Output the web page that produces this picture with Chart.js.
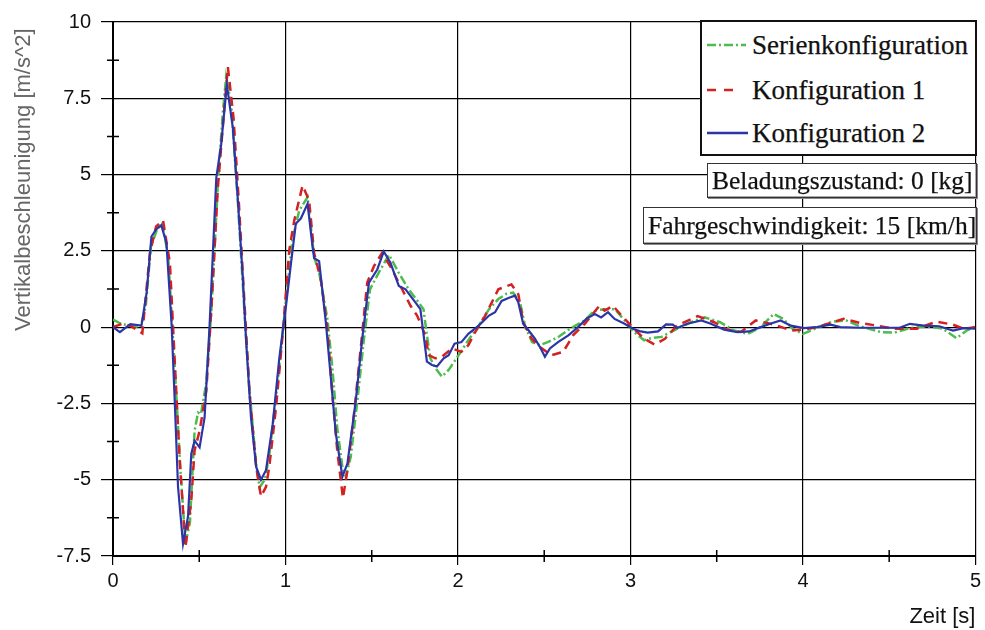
<!DOCTYPE html>
<html>
<head>
<meta charset="utf-8">
<script src="https://cdn.jsdelivr.net/npm/chart.js@4.4.1/dist/chart.umd.min.js"></script>
<style>
  body { margin: 0; background: #fff; }
  #wrap { position: relative; width: 985px; height: 630px; }
  .box {
    position: absolute; background: #fff; box-sizing: border-box;
    font-family: "Liberation Serif", "Times New Roman", serif; color: #111;
    -webkit-text-stroke: 0.25px #111;
  }
  #legend { left: 700px; top: 20px; width: 277px; height: 136px; border: 2px solid #111; }
  .row { position: absolute; left: 0; height: 40px; line-height: 40px; font-size: 27px; }
  .row svg { position: absolute; left: 4px; top: 14px; }
  .row span { position: absolute; left: 50px; white-space: nowrap; }
  .note {
    border: 1px solid #333; box-shadow: 1px 1px 0 #888, inset -1px -1px 0 #aaa;
    font-size: 25.5px; white-space: nowrap; padding-left: 4px;
  }
  #ytitle {
    position: absolute; left: 10px; top: 331px; height: 26px; line-height: 26px;
    transform-origin: 0 0; transform: rotate(-90deg); white-space: nowrap;
    font-family: "Liberation Sans", Arial, sans-serif; font-size: 22px; color: #666;
  }
</style>
</head>
<body>
<div id="wrap">
  <canvas id="chart" width="985" height="630"></canvas>
  <div id="ytitle">Vertikalbeschleunigung [m/s^2]</div>
  <div id="legend" class="box">
    <div class="row" style="top:3px"><svg width="44" height="12"><line x1="1" y1="6" x2="40" y2="6" stroke="#4dbb4d" stroke-width="2.5" stroke-dasharray="9,3,2,3"/></svg><span>Serienkonfiguration</span></div>
    <div class="row" style="top:48px"><svg width="44" height="12"><line x1="1" y1="6" x2="33" y2="6" stroke="#d42020" stroke-width="2.5" stroke-dasharray="9,8"/></svg><span>Konfiguration 1</span></div>
    <div class="row" style="top:91px"><svg width="44" height="12"><line x1="1" y1="6" x2="42" y2="6" stroke="#2b35a8" stroke-width="2.5"/></svg><span>Konfiguration 2</span></div>
  </div>
  <div class="box note" style="left:707px; top:163px; width:270px; height:35px; line-height:33px;">Beladungszustand: 0 [kg]</div>
  <div class="box note" style="left:643px; top:207px; width:334px; height:37px; line-height:35px;">Fahrgeschwindigkeit: 15 [km/h]</div>
</div>
<script>
// Zeit [s] and Vertikalbeschleunigung [m/s^2]
const serieT = [0, 0.05, 0.1, 0.16, 0.19, 0.22, 0.255, 0.287, 0.32, 0.36, 0.39, 0.42, 0.446, 0.473, 0.493, 0.51, 0.54, 0.57, 0.608, 0.637,
  0.656, 0.685, 0.724, 0.762, 0.79, 0.83, 0.85, 0.88, 0.906, 0.955, 0.994, 1.04, 1.08, 1.128, 1.166, 1.195, 1.243, 1.272, 1.30, 1.33,
  1.35, 1.378, 1.417, 1.455, 1.49, 1.54, 1.6, 1.657, 1.714, 1.772, 1.8, 1.82, 1.84, 1.87, 1.907, 1.946, 1.994, 2.06, 2.12, 2.18,
  2.234, 2.283, 2.32, 2.36, 2.39, 2.43, 2.475, 2.52, 2.58, 2.65, 2.735, 2.79, 2.85, 2.91, 2.966, 3.02, 3.08, 3.12, 3.18, 3.25,
  3.35, 3.43, 3.52, 3.6, 3.68, 3.755, 3.83, 3.886, 3.94, 4.0, 4.08, 4.17, 4.25, 4.33, 4.45, 4.53, 4.62, 4.72, 4.81, 4.89, 4.95, 5.0];
const serieV = [0.25, 0.1, 0.05, 0, 0.7, 2.65, 3.2, 3.4, 2.3, -1.5, -4.6, -7.1, -6.4, -3.4, -2.8, -2.85, -1.85, 0.5, 4.7, 7.05,
  8.2, 7.3, 4.1, 0.5, -2.0, -4.5, -5.25, -5.0, -4.2, -1.8, 0.4, 2.86, 3.83, 4.26, 2.3, 1.8, 0.27, -1.35, -3.3, -4.58,
  -4.9, -4.26, -2.4, -0.38, 1.24, 1.78, 2.37, 1.78, 1.24, 0.81, 0.59, -0.27, -1.02, -1.35, -1.62, -1.4, -1.0, -0.43, 0.05, 0.59,
  0.92, 1.1, 1.13, 0.81, 0.0, -0.49, -0.59, -0.49, -0.33, -0.05, 0.22, 0.54, 0.59, 0.59, 0.22, -0.16, -0.43, -0.36, -0.32, -0.11,
  0.16, 0.32, 0.16, -0.11, -0.22, 0, 0.43, 0.27, -0.05, -0.22, -0.03, 0.18, 0.22, 0.03, -0.16, -0.18, -0.03, 0.03, -0.05, -0.36, -0.11, 0.03];

const konf1T = [0, 0.05, 0.1, 0.17, 0.214, 0.25, 0.29, 0.33, 0.358, 0.387, 0.42, 0.454, 0.473, 0.502, 0.541, 0.57, 0.608, 0.647, 0.666, 0.699,
  0.73, 0.762, 0.791, 0.83, 0.858, 0.887, 0.906, 0.945, 0.983, 1.022, 1.051, 1.099, 1.137, 1.166, 1.205, 1.243, 1.272, 1.30, 1.333, 1.359,
  1.397, 1.436, 1.474, 1.513, 1.56, 1.618, 1.676, 1.725, 1.763, 1.811, 1.83, 1.869, 1.907, 1.965, 2.02, 2.06, 2.1, 2.158, 2.234, 2.31,
  2.35, 2.378, 2.427, 2.475, 2.542, 2.61, 2.667, 2.735, 2.82, 2.85, 2.898, 2.966, 3.02, 3.08, 3.14, 3.2, 3.27, 3.39, 3.486, 3.56,
  3.64, 3.726, 3.79, 3.85, 3.93, 4.005, 4.08, 4.236, 4.33, 4.43, 4.525, 4.66, 4.775, 4.87, 4.93, 5.0];
const konf1V = [0, 0.1, 0.05, -0.2, 2.43, 3.3, 3.5, 2.1, -1.13, -4.37, -7.22, -5.66, -4.04, -3.4, -2.1, 0.59, 4.58, 7.28, 8.52, 6.85,
  4.04, 0.81, -2.1, -4.58, -5.55, -5.23, -4.58, -2.64, -0.27, 2.53, 3.5, 4.64, 4.15, 2.43, 1.56, -0.05, -2.21, -4.04, -5.6, -4.69,
  -2.86, -0.7, 1.46, 2.0, 2.43, 1.89, 1.24, 0.7, 0.38, -0.27, -0.92, -1.02, -0.97, -0.7, -0.81, -0.59, -0.16, 0.38, 1.24, 1.4,
  1.08, 0.16, -0.38, -0.65, -0.92, -0.81, -0.27, 0.11, 0.7, 0.54, 0.7, 0.27, -0.05, -0.38, -0.57, -0.38, 0.05, 0.36, 0.16, -0.08,
  -0.16, 0.22, 0.14, 0.05, -0.11, -0.08, 0, 0.27, 0.14, 0.05, -0.05, -0.05, 0.18, 0.08, -0.05, 0];

const konf2T = [0, 0.04, 0.1, 0.165, 0.195, 0.223, 0.25, 0.28, 0.31, 0.34, 0.358, 0.377, 0.406, 0.435, 0.454, 0.473, 0.502, 0.531, 0.56, 0.599,
  0.627, 0.66, 0.695, 0.724, 0.752, 0.772, 0.8, 0.83, 0.858, 0.887, 0.926, 0.964, 1.003, 1.032, 1.06, 1.089, 1.128, 1.157, 1.166, 1.195,
  1.234, 1.263, 1.292, 1.33, 1.359, 1.407, 1.445, 1.484, 1.532, 1.57, 1.609, 1.657, 1.696, 1.753, 1.782, 1.801, 1.82, 1.849, 1.878, 1.917,
  1.946, 1.98, 2.02, 2.06, 2.12, 2.18, 2.215, 2.253, 2.3, 2.33, 2.35, 2.378, 2.41, 2.446, 2.48, 2.504, 2.533, 2.58, 2.64, 2.696,
  2.744, 2.793, 2.83, 2.87, 2.908, 2.966, 3.014, 3.06, 3.1, 3.16, 3.206, 3.245, 3.27, 3.33, 3.41, 3.466, 3.543, 3.62, 3.688, 3.755,
  3.81, 3.87, 3.93, 4.005, 4.08, 4.16, 4.217, 4.33, 4.45, 4.56, 4.62, 4.7, 4.79, 4.87, 4.93, 5.0];
const konf2V = [0, -0.16, 0.1, 0.05, 1.13, 2.97, 3.2, 3.34, 2.75, 0.06, -2.43, -5.23, -7.1, -6.2, -4.15, -3.72, -3.94, -2.96, 0.06, 4.9,
  5.98, 7.95, 6.52, 4.15, 1.67, -0.48, -2.96, -4.58, -5.0, -4.69, -3.18, -1.02, 0.7, 2.1, 3.4, 3.56, 4.04, 2.64, 2.26, 2.16,
  0.16, -1.67, -3.5, -4.9, -4.47, -2.43, -0.38, 1.46, 1.89, 2.48, 2.1, 1.35, 1.24, 0.81, 0.59, -0.27, -1.13, -1.24, -1.29, -1.02,
  -0.92, -0.54, -0.49, -0.22, 0.05, 0.38, 0.49, 0.86, 0.97, 1.03, 0.81, 0.11, -0.11, -0.38, -0.7, -0.97, -0.7, -0.49, -0.27, 0.0,
  0.27, 0.43, 0.32, 0.49, 0.27, 0.11, -0.05, -0.14, -0.18, -0.14, 0.09, 0.08, -0.03, 0.11, 0.22, 0.11, -0.08, -0.16, -0.14, 0,
  0.11, 0.22, 0.05, -0.03, 0, 0.08, 0, -0.02, -0.02, -0.02, 0.11, 0.05, 0.03, -0.11, -0.03, -0.05];

const xMin = 0, xMax = 5, xStep = 0.5;
const yMin = -7.5, yMax = 10, yStep = 1.25;

function toPoints(ts, vs) {
  return ts.map((t, i) => ({ x: t, y: vs[i] }));
}

const isMajorX = (v) => Math.abs(v - Math.round(v)) < 1e-6;
const isMajorY = (v) => Math.abs(v / 2.5 - Math.round(v / 2.5)) < 1e-6;

// minor ticks cross the axis line (6px each side)
const minorTicks = {
  id: 'minorTicks',
  afterDraw(chart) {
    const { ctx, chartArea, scales } = chart;
    ctx.save();
    ctx.strokeStyle = '#000';
    ctx.lineWidth = 1.5;
    ctx.beginPath();
    scales.x.ticks.forEach((t) => {
      if (isMajorX(t.value)) return;
      const px = scales.x.getPixelForValue(t.value);
      ctx.moveTo(px, chartArea.bottom + 6);
      ctx.lineTo(px, chartArea.bottom - 6);
    });
    scales.y.ticks.forEach((t) => {
      if (isMajorY(t.value)) return;
      const py = scales.y.getPixelForValue(t.value);
      ctx.moveTo(chartArea.left - 6, py);
      ctx.lineTo(chartArea.left + 6, py);
    });
    ctx.stroke();
    ctx.restore();
  },
};

const tickFont = { family: '"Liberation Sans", Arial, sans-serif', size: 20 };

new Chart(document.getElementById('chart'), {
  type: 'line',
  data: {
    datasets: [
      {
        label: 'Konfiguration 2',
        data: toPoints(konf2T, konf2V),
        borderColor: '#2b35a8',
        borderWidth: 2.2,
        order: 1,
      },
      {
        label: 'Konfiguration 1',
        data: toPoints(konf1T, konf1V),
        borderColor: '#d42020',
        borderWidth: 2.5,
        borderDash: [9, 6],
        order: 2,
      },
      {
        label: 'Serienkonfiguration',
        data: toPoints(serieT, serieV),
        borderColor: '#4dbb4d',
        borderWidth: 2.5,
        borderDash: [9, 3, 2, 3],
        order: 3,
      },
    ],
  },
  options: {
    responsive: false,
    animation: false,
    devicePixelRatio: 1,
    layout: { padding: { top: 15, right: 7, left: 0, bottom: 0 } },
    elements: { point: { radius: 0 }, line: { tension: 0, fill: false } },
    plugins: { legend: { display: false }, tooltip: { enabled: false } },
    scales: {
      x: {
        type: 'linear',
        min: xMin,
        max: xMax,
        afterFit: (s) => { s.height = 74; },
        ticks: {
          stepSize: xStep,
          autoSkip: false,
          maxRotation: 0,
          padding: 4,
          color: '#111',
          font: tickFont,
          callback: (v) => (isMajorX(v) ? String(v) : ''),
        },
        grid: {
          color: (c) => (c.tick && isMajorX(c.tick.value) ? '#000' : 'rgba(0,0,0,0)'),
          tickColor: (c) => (c.tick && isMajorX(c.tick.value) ? '#000' : 'rgba(0,0,0,0)'),
          tickLength: 9,
          lineWidth: 1.2,
        },
        border: { color: '#000', width: 2 },
        title: {
          display: true,
          text: 'Zeit [s]',
          align: 'end',
          color: '#111',
          font: { family: '"Liberation Sans", Arial, sans-serif', size: 22 },
          padding: { top: 0, bottom: 0 },
        },
      },
      y: {
        type: 'linear',
        min: yMin,
        max: yMax,
        afterFit: (s) => { s.width = 113; },
        ticks: {
          stepSize: yStep,
          autoSkip: false,
          padding: 10,
          color: '#111',
          font: tickFont,
          callback: (v) => (isMajorY(v) ? String(v) : ''),
        },
        grid: {
          color: (c) => (c.tick && isMajorY(c.tick.value) ? '#000' : 'rgba(0,0,0,0)'),
          tickColor: (c) => (c.tick && isMajorY(c.tick.value) ? '#000' : 'rgba(0,0,0,0)'),
          tickLength: 12,
          lineWidth: 1.2,
        },
        border: { color: '#000', width: 2 },
      },
    },
  },
  plugins: [minorTicks],
});
</script>
</body>
</html>
